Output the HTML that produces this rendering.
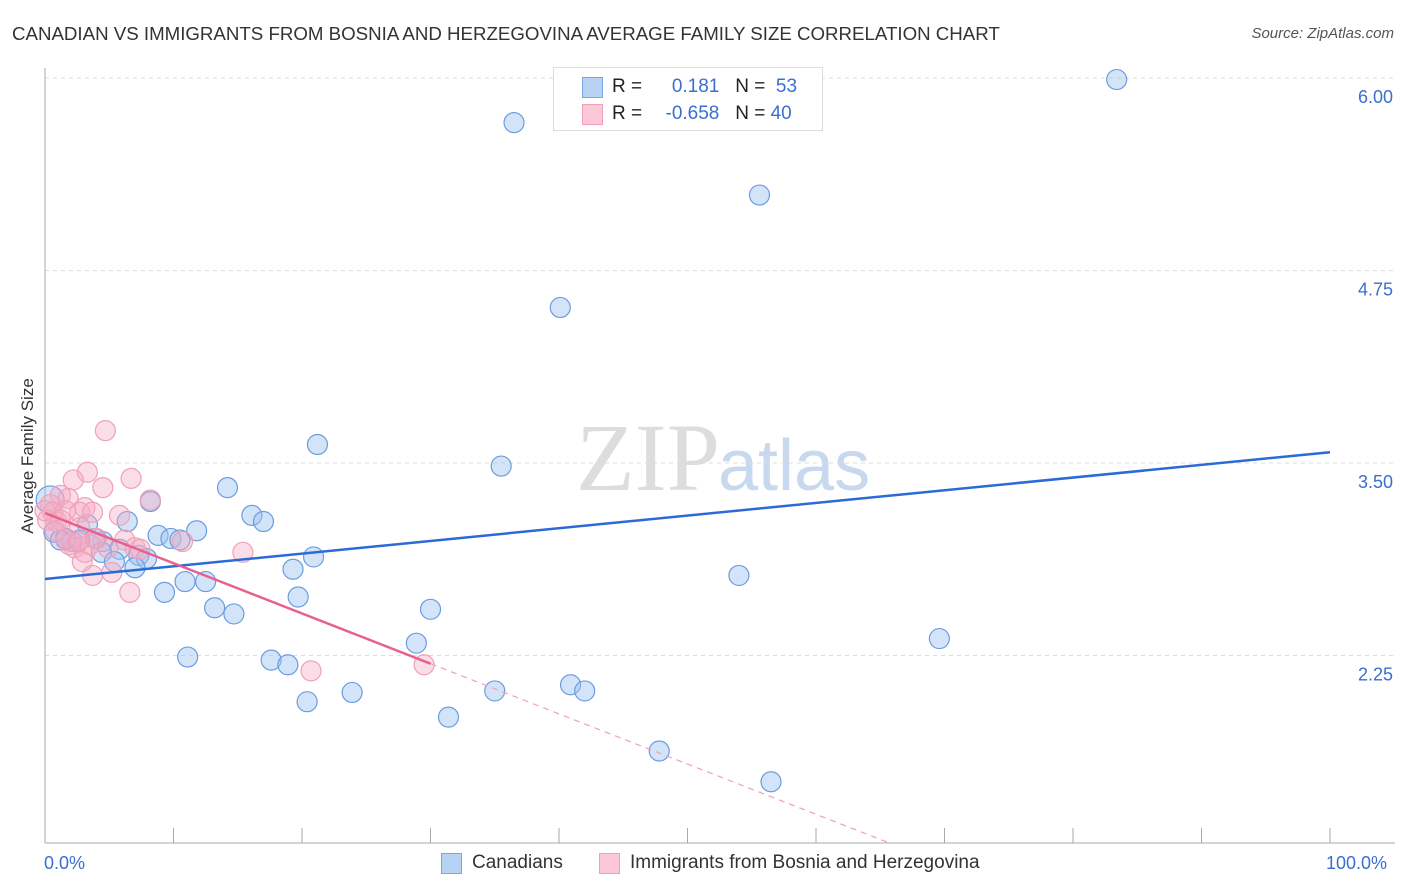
<!DOCTYPE html>
<html><head><meta charset="utf-8"><style>
body{margin:0;background:#fff;font-family:"Liberation Sans",sans-serif;}
#wrap{position:relative;width:1406px;height:892px;overflow:hidden;}
.t{position:absolute;white-space:nowrap;}
</style></head><body>
<div id="wrap">
<div class="t" style="left:12px;top:23px;font-size:18.7px;color:#333;">CANADIAN VS IMMIGRANTS FROM BOSNIA AND HERZEGOVINA AVERAGE FAMILY SIZE CORRELATION CHART</div>
<div class="t" style="right:12px;top:25px;font-size:15px;color:#555;font-style:italic;">Source: ZipAtlas.com</div>
<svg id="chart" width="1406" height="892" style="position:absolute;left:0;top:0">
<text x="720" y="490" text-anchor="end" font-family="Liberation Serif" font-size="96" fill="#ddd">ZIP</text>
<text x="718" y="490" font-family="Liberation Sans" font-size="72" fill="#c8d8ee">atlas</text>
</svg>
<div style="position:absolute;left:553px;top:67px;width:268px;height:62px;border:1px solid #ddd;background:#fff;">
<div style="position:absolute;left:28px;top:9px;width:19px;height:19px;background:#b8d2f4;border:1px solid #7aa6e0;"></div>
<div style="position:absolute;left:28px;top:36px;width:19px;height:19px;background:#fcc8d8;border:1px solid #f0a0b8;"></div>
<div class="t" style="left:58px;top:8px;font-size:19px;color:#222;">R = <span style="color:#3a6fd0;display:inline-block;width:72px;text-align:right">0.181</span>&nbsp;&nbsp;&nbsp;N = &nbsp;<span style="color:#3a6fd0">53</span></div>
<div class="t" style="left:58px;top:35px;font-size:19px;color:#222;">R = <span style="color:#3a6fd0;display:inline-block;width:72px;text-align:right">-0.658</span>&nbsp;&nbsp;&nbsp;N = <span style="color:#3a6fd0">40</span></div>
</div>
<div class="t" style="left:28px;top:456px;font-size:17px;color:#333;transform:translate(-50%,-50%) rotate(-90deg);">Average Family Size</div>
<div class="t" style="left:44px;top:853px;font-size:18px;color:#3a6fd0;">0.0%</div>
<div class="t" style="left:1326px;top:853px;font-size:18px;color:#3a6fd0;">100.0%</div>
<div style="position:absolute;left:441px;top:853px;width:19px;height:19px;background:#b8d2f4;border:1px solid #7aa6e0;"></div>
<div class="t" style="left:472px;top:852px;font-size:19px;color:#333;">Canadians</div>
<div style="position:absolute;left:599px;top:853px;width:19px;height:19px;background:#fcc8d8;border:1px solid #f0a0b8;"></div>
<div class="t" style="left:630px;top:852px;font-size:19px;color:#333;">Immigrants from Bosnia and Herzegovina</div>
</div>
<script>
const yTicks=[6.00,4.75,3.50,2.25];
const yTickLabels=["6.00","4.75","3.50","2.25"];
const blueX=[83.4,36.5,55.6,40.1,21.2,35.5,14.2,8.2,16.1,6.4,17.0,3.3,0.7,1.2,8.8,11.8,9.8,10.5,2.1,4.5,5.8,7.3,7.9,4.4,5.4,7.0,19.3,20.9,10.9,12.5,54.0,9.3,19.7,13.2,14.7,30.0,28.9,69.6,11.1,17.6,18.9,23.9,20.4,35.0,40.9,42.0,31.4,47.8,56.5,0.4,3.9,1.6,2.7];
const blueY=[5.99,5.71,5.24,4.51,3.62,3.48,3.34,3.25,3.16,3.12,3.12,3.10,3.05,3.00,3.03,3.06,3.01,3.00,2.99,2.99,2.94,2.90,2.88,2.92,2.86,2.82,2.81,2.89,2.73,2.73,2.77,2.66,2.63,2.56,2.52,2.55,2.33,2.36,2.24,2.22,2.19,2.01,1.95,2.02,2.06,2.02,1.85,1.63,1.43,3.26,3.01,3.01,3.00];
const pinkX=[4.7,3.3,2.2,6.7,4.5,8.2,1.2,1.8,0.4,0.6,3.1,2.7,3.7,5.8,0.2,0.9,2.7,4.0,6.2,1.9,2.3,3.1,3.5,7.0,10.7,15.4,3.7,5.2,6.6,20.7,29.5,2.9,1.2,0.0,1.6,0.8,1.6,2.6,4.9,7.4];
const pinkY=[3.71,3.44,3.39,3.40,3.34,3.26,3.29,3.27,3.23,3.18,3.21,3.18,3.18,3.16,3.13,3.12,3.08,3.01,3.00,2.97,2.95,2.92,2.97,2.95,2.99,2.92,2.77,2.79,2.66,2.15,2.19,2.86,3.13,3.19,3.19,3.06,3.00,2.99,2.95,2.94];
const blueLine=[2.747,3.57];
const pinkLine=[3.175,-0.0326];
const pinkSolidEnd=30;

const svg=document.getElementById('chart');
const NS='http://www.w3.org/2000/svg';
const X=p=>45+p*12.85;
const Y=v=>463-(v-3.5)*154;
function mk(tag,attrs){const e=document.createElementNS(NS,tag);for(const k in attrs)e.setAttribute(k,attrs[k]);svg.appendChild(e);return e;}

yTicks.forEach((v,i)=>{
  const g=mk('line',{x1:45,x2:1395,y1:Y(v),y2:Y(v),stroke:'#ddd','stroke-dasharray':'4,4'});
  
  
  const t=mk('text',{x:1393,y:Y(v)+25,'text-anchor':'end','font-size':18,fill:'#3a6fd0','font-family':'Liberation Sans'});
  t.textContent=yTickLabels[i];
  
  
});
const ya=mk('line',{x1:45,x2:45,y1:68,y2:843,stroke:'#aaa'});


const xa=mk('line',{x1:45,x2:1395,y1:843,y2:843,stroke:'#aaa'});


for(let i=0;i<=10;i++){
  const tk=mk('line',{x1:X(i*10),x2:X(i*10),y1:828,y2:843,stroke:'#aaa'});
  
  
}
blueX.forEach((x,i)=>{
  const c=mk('circle',{cx:X(x),cy:Y(blueY[i]),r:(i==49?14:10),fill:'rgba(160,196,240,0.45)',stroke:'#6a9ce0','stroke-width':1.2});
  
  
});
pinkX.forEach((x,i)=>{
  const c=mk('circle',{cx:X(x),cy:Y(pinkY[i]),r:10,fill:'rgba(246,170,195,0.4)',stroke:'#f0a0b8','stroke-width':1.2});
  
  
});
const bl=mk('line',{x1:X(0),y1:Y(blueLine[0]),x2:X(100),y2:Y(blueLine[1]),stroke:'#2b6bd6','stroke-width':2.5});


const pv=p=>pinkLine[0]+pinkLine[1]*p;
const pl=mk('line',{x1:X(0),y1:Y(pv(0)),x2:X(pinkSolidEnd),y2:Y(pv(pinkSolidEnd)),stroke:'#e8608e','stroke-width':2.5});


const endP=(pinkLine[0]-(3.5-(843-463)/154))/(-pinkLine[1]);
const pd=mk('line',{x1:X(pinkSolidEnd),y1:Y(pv(pinkSolidEnd)),x2:X(endP),y2:Y(pv(endP)),stroke:'#f0a0b8','stroke-width':1.2,'stroke-dasharray':'6,5'});


</script>
</body></html>
